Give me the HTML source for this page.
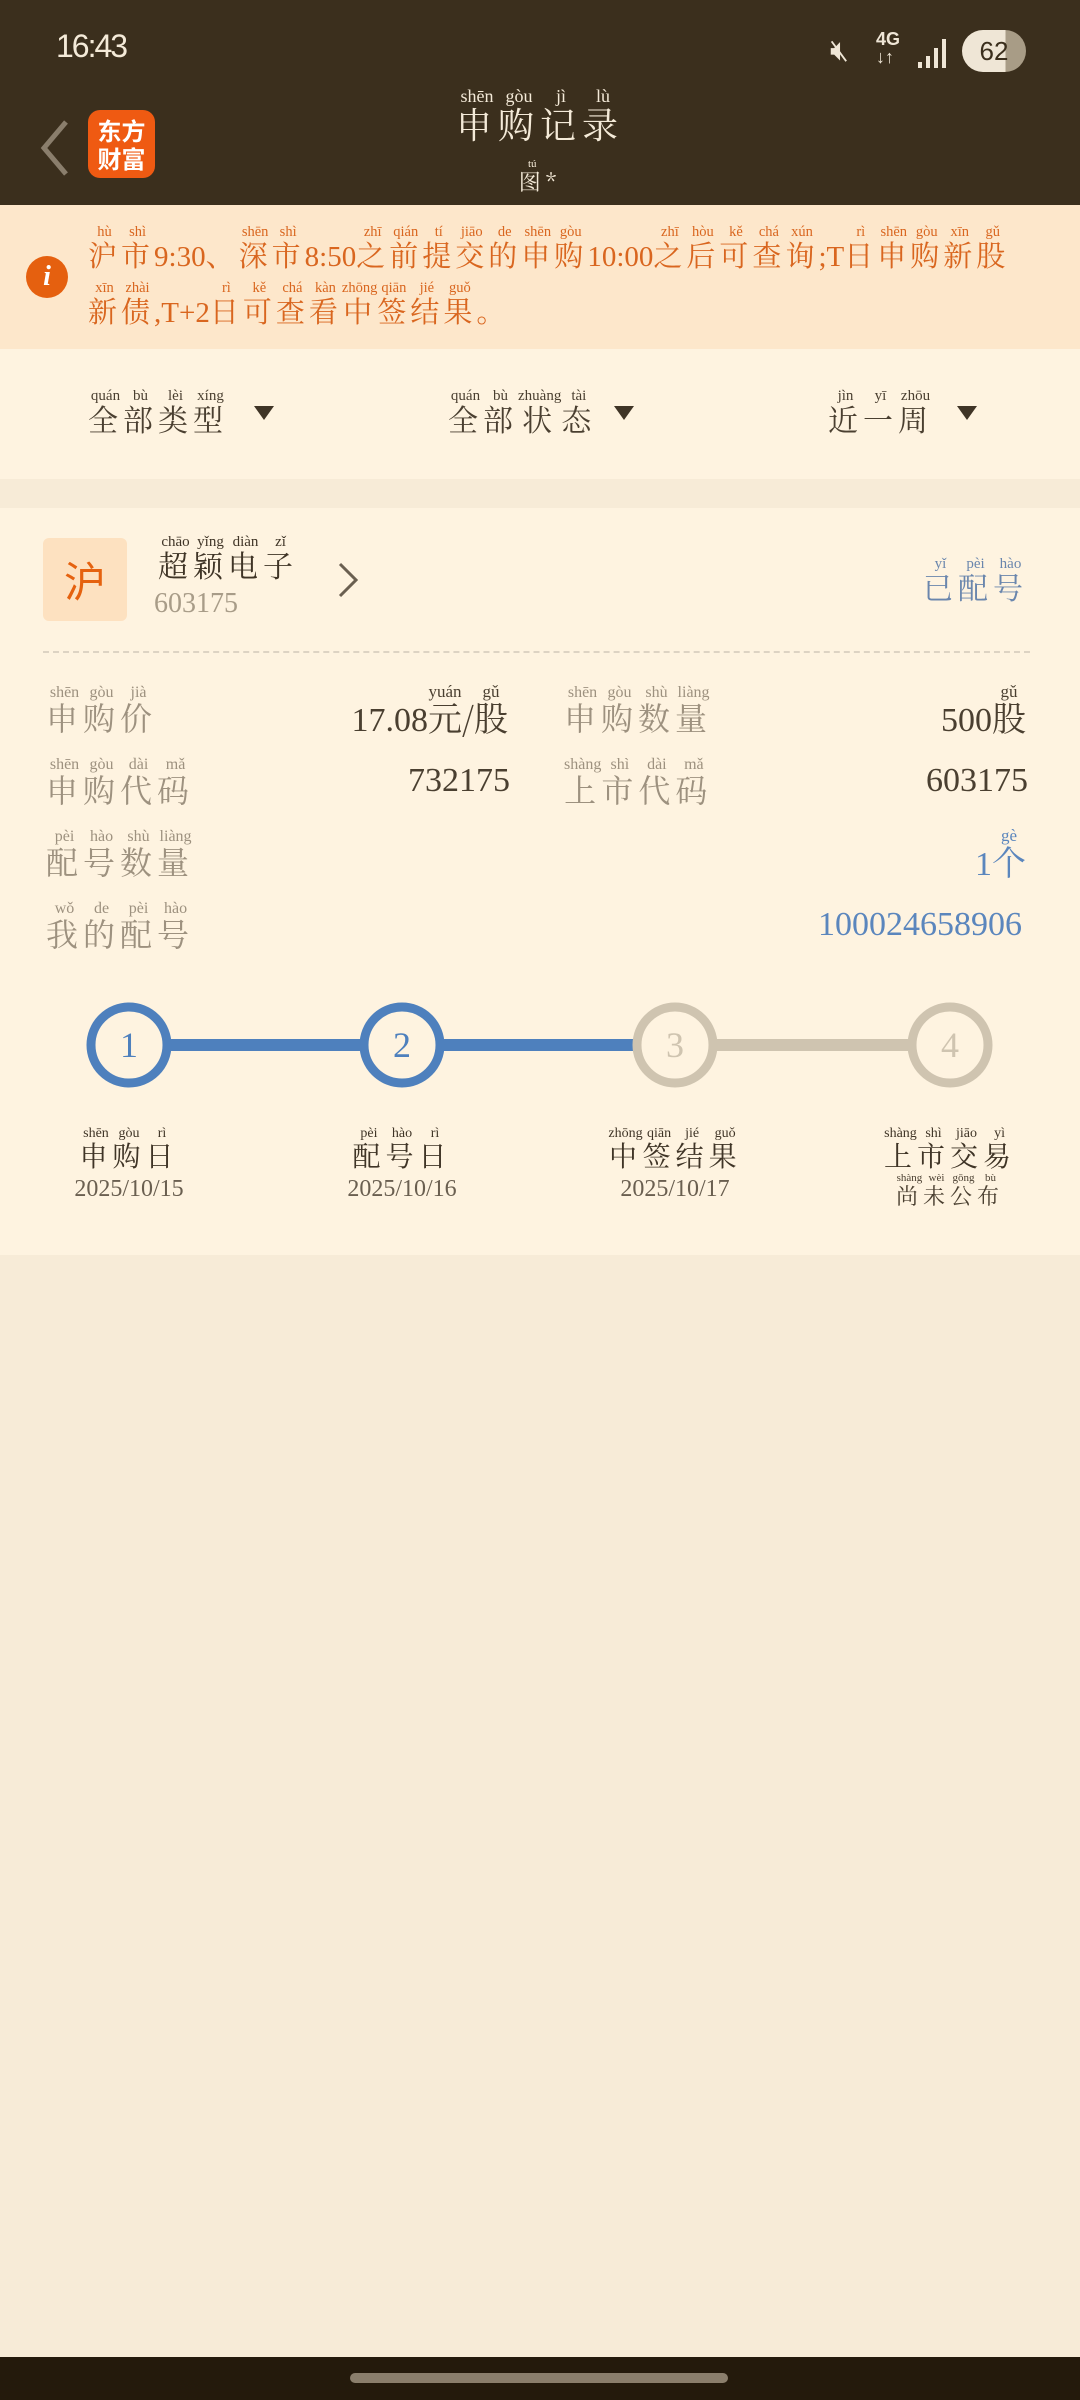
<!DOCTYPE html>
<html><head><meta charset="utf-8">
<style>
*{margin:0;padding:0;box-sizing:border-box}
html,body{width:1080px;height:2400px;overflow:hidden;background:#f7ebd7;font-family:"Liberation Serif","Noto Serif CJK SC",serif}
.a{position:absolute;white-space:nowrap}
ruby{ruby-position:over}
rt{font-size:0.5em;font-family:"Liberation Serif",serif;letter-spacing:0;text-align:center}
.zh{font-family:"Noto Serif CJK SC","Liberation Serif",serif;letter-spacing:5px}
.n{letter-spacing:0;font-family:"Liberation Serif",serif}
.lab{color:#9d917f;font-size:32px}
.val{color:#4a3f30;font-size:34px;text-align:right}
.blue{color:#5b86bd}
</style></head><body>
<!-- header -->
<div class="a" style="left:0;top:0;width:1080px;height:205px;background:#3b2f1d"></div>
<div class="a" style="left:56px;top:28px;color:#f4ead8;font-size:32px;font-family:'Liberation Sans',sans-serif;letter-spacing:-2px">16:43</div>
<div class="a" style="left:830px;top:34px;color:#efe6d6;font-size:30px;font-family:'Liberation Sans',sans-serif">🔇︎</div>
<div class="a" style="left:876px;top:30px;color:#efe6d6;font-size:18px;font-family:'Liberation Sans',sans-serif;font-weight:bold;line-height:18px">4G<br>↓↑</div>
<svg class="a" style="left:918px;top:36px" width="34" height="34"><rect x="0" y="26" width="4" height="6" fill="#efe6d6"/><rect x="8" y="20" width="4" height="12" fill="#efe6d6"/><rect x="16" y="12" width="4" height="20" fill="#efe6d6"/><rect x="24" y="3" width="4" height="29" fill="#efe6d6"/></svg>
<div class="a" style="left:962px;top:30px;width:64px;height:42px;border-radius:21px;background:linear-gradient(90deg,#efe6d6 0 68%,#a89c86 68%);color:#3b2f1d;font-size:26px;text-align:center;line-height:42px;font-family:'Liberation Sans',sans-serif">62</div>
<svg class="a" style="left:36px;top:118px" width="36" height="60"><polyline points="30,4 8,30 30,56" fill="none" stroke="#8a7e6c" stroke-width="5"/></svg>
<div class="a" style="left:88px;top:110px;width:67px;height:68px;border-radius:12px;background:#ef5a12;color:#fff;font-size:24px;font-weight:bold;line-height:28px;text-align:center;padding-top:6px;font-family:'Noto Sans CJK SC',sans-serif">东方<br>财富</div>
<div class="a zh" style="left:0;width:1080px;top:88px;text-align:center;color:#f4ead8;font-size:36px;letter-spacing:6px"><ruby>申<rt>shēn</rt></ruby><ruby>购<rt>gòu</rt></ruby><ruby>记<rt>jì</rt></ruby><ruby>录<rt>lù</rt></ruby></div>
<div class="a zh" style="left:0;width:1080px;top:158px;text-align:center;color:#f4ead8;font-size:22px"><ruby>图<rt>tú</rt></ruby>*</div>
<!-- notice -->
<div class="a" style="left:0;top:205px;width:1080px;height:144px;background:#fde7cb"></div>
<div class="a" style="left:26px;top:256px;width:42px;height:42px;border-radius:50%;background:#e5600f;color:#fff;font-size:28px;font-style:italic;font-weight:bold;text-align:center;line-height:42px">i</div>
<div class="a zh" style="left:88px;top:224px;color:#d9661f;font-size:29px;line-height:54px;letter-spacing:4px"><ruby>沪<rt>hù</rt></ruby><ruby>市<rt>shì</rt></ruby><span class="n">9:30</span>、<ruby>深<rt>shēn</rt></ruby><ruby>市<rt>shì</rt></ruby><span class="n">8:50</span><ruby>之<rt>zhī</rt></ruby><ruby>前<rt>qián</rt></ruby><ruby>提<rt>tí</rt></ruby><ruby>交<rt>jiāo</rt></ruby><ruby>的<rt>de</rt></ruby><ruby>申<rt>shēn</rt></ruby><ruby>购<rt>gòu</rt></ruby><span class="n">10:00</span><ruby>之<rt>zhī</rt></ruby><ruby>后<rt>hòu</rt></ruby><ruby>可<rt>kě</rt></ruby><ruby>查<rt>chá</rt></ruby><ruby>询<rt>xún</rt></ruby><span class="n">;T</span><ruby>日<rt>rì</rt></ruby><ruby>申<rt>shēn</rt></ruby><ruby>购<rt>gòu</rt></ruby><ruby>新<rt>xīn</rt></ruby><ruby>股<rt>gǔ</rt></ruby><br><ruby>新<rt>xīn</rt></ruby><ruby>债<rt>zhài</rt></ruby><span class="n">,T+2</span><ruby>日<rt>rì</rt></ruby><ruby>可<rt>kě</rt></ruby><ruby>查<rt>chá</rt></ruby><ruby>看<rt>kàn</rt></ruby><ruby>中<rt>zhōng</rt></ruby><ruby>签<rt>qiān</rt></ruby><ruby>结<rt>jié</rt></ruby><ruby>果<rt>guǒ</rt></ruby>。</div>
<!-- filters -->
<div class="a" style="left:0;top:349px;width:1080px;height:130px;background:#fef3e0"></div>
<div class="a zh" style="left:88px;top:388px;color:#4a3f30;font-size:30px"><ruby>全<rt>quán</rt></ruby><ruby>部<rt>bù</rt></ruby><ruby>类<rt>lèi</rt></ruby><ruby>型<rt>xíng</rt></ruby></div>
<div class="a zh" style="left:448px;top:388px;color:#4a3f30;font-size:30px"><ruby>全<rt>quán</rt></ruby><ruby>部<rt>bù</rt></ruby><ruby>状<rt>zhuàng</rt></ruby><ruby>态<rt>tài</rt></ruby></div>
<div class="a zh" style="left:828px;top:388px;color:#4a3f30;font-size:30px"><ruby>近<rt>jìn</rt></ruby><ruby>一<rt>yī</rt></ruby><ruby>周<rt>zhōu</rt></ruby></div>
<svg class="a" style="left:254px;top:406px" width="20" height="16"><polygon points="0,0 20,0 10,14" fill="#3f3426"/></svg>
<svg class="a" style="left:614px;top:406px" width="20" height="16"><polygon points="0,0 20,0 10,14" fill="#3f3426"/></svg>
<svg class="a" style="left:957px;top:406px" width="20" height="16"><polygon points="0,0 20,0 10,14" fill="#3f3426"/></svg>
<!-- card -->
<div class="a" style="left:0;top:508px;width:1080px;height:747px;background:#fef3e0"></div>
<div class="a" style="left:43px;top:538px;width:84px;height:83px;border-radius:6px;background:#fde1c0;color:#e5620f;font-size:42px;text-align:center;line-height:83px;font-family:'Noto Sans CJK SC',sans-serif">沪</div>
<div class="a zh" style="left:158px;top:534px;color:#3f3426;font-size:30px"><ruby>超<rt>chāo</rt></ruby><ruby>颖<rt>yǐng</rt></ruby><ruby>电<rt>diàn</rt></ruby><ruby>子<rt>zǐ</rt></ruby></div>
<div class="a" style="left:154px;top:588px;color:#a89c88;font-size:28px">603175</div>
<svg class="a" style="left:336px;top:560px" width="24" height="40"><polyline points="4,4 20,20 4,36" fill="none" stroke="#6a5f50" stroke-width="3"/></svg>
<div class="a zh blue" style="right:52px;top:556px;font-size:30px;color:#6a86ad"><ruby>已<rt>yǐ</rt></ruby><ruby>配<rt>pèi</rt></ruby><ruby>号<rt>hào</rt></ruby></div>
<div class="a" style="left:43px;top:651px;width:987px;border-top:2px dashed #ddd3c3"></div>
<div class="a zh lab" style="left:46px;top:684px"><ruby>申<rt>shēn</rt></ruby><ruby>购<rt>gòu</rt></ruby><ruby>价<rt>jià</rt></ruby></div>
<div class="a val" style="right:572px;top:684px">17.08<span class="zh" style="letter-spacing:0"><ruby>元<rt>yuán</rt></ruby>/<ruby>股<rt>gǔ</rt></ruby></span></div>
<div class="a zh lab" style="left:564px;top:684px"><ruby>申<rt>shēn</rt></ruby><ruby>购<rt>gòu</rt></ruby><ruby>数<rt>shù</rt></ruby><ruby>量<rt>liàng</rt></ruby></div>
<div class="a val" style="right:54px;top:684px">500<span class="zh" style="letter-spacing:0"><ruby>股<rt>gǔ</rt></ruby></span></div>
<div class="a zh lab" style="left:46px;top:756px"><ruby>申<rt>shēn</rt></ruby><ruby>购<rt>gòu</rt></ruby><ruby>代<rt>dài</rt></ruby><ruby>码<rt>mǎ</rt></ruby></div>
<div class="a val" style="right:570px;top:762px">732175</div>
<div class="a zh lab" style="left:564px;top:756px"><ruby>上<rt>shàng</rt></ruby><ruby>市<rt>shì</rt></ruby><ruby>代<rt>dài</rt></ruby><ruby>码<rt>mǎ</rt></ruby></div>
<div class="a val" style="right:52px;top:762px">603175</div>
<div class="a zh lab" style="left:46px;top:828px"><ruby>配<rt>pèi</rt></ruby><ruby>号<rt>hào</rt></ruby><ruby>数<rt>shù</rt></ruby><ruby>量<rt>liàng</rt></ruby></div>
<div class="a val blue" style="right:54px;top:828px">1<span class="zh" style="letter-spacing:0"><ruby>个<rt>gè</rt></ruby></span></div>
<div class="a zh lab" style="left:46px;top:900px"><ruby>我<rt>wǒ</rt></ruby><ruby>的<rt>de</rt></ruby><ruby>配<rt>pèi</rt></ruby><ruby>号<rt>hào</rt></ruby></div>
<div class="a val blue" style="right:58px;top:906px">100024658906</div>
<!-- steps -->
<svg class="a" style="left:0;top:990px" width="1080" height="110">
<line x1="129" y1="55" x2="675" y2="55" stroke="#4e80bd" stroke-width="12"/>
<line x1="675" y1="55" x2="950" y2="55" stroke="#cfc4b0" stroke-width="12"/>
<g font-family="Liberation Serif" font-size="36" text-anchor="middle">
<circle cx="129" cy="55" r="38" fill="#fef3e0" stroke="#4e80bd" stroke-width="9"/><text x="129" y="67" fill="#4e80bd">1</text>
<circle cx="402" cy="55" r="38" fill="#fef3e0" stroke="#4e80bd" stroke-width="9"/><text x="402" y="67" fill="#4e80bd">2</text>
<circle cx="675" cy="55" r="38" fill="#fef3e0" stroke="#cfc4b0" stroke-width="9"/><text x="675" y="67" fill="#cfc4b0">3</text>
<circle cx="950" cy="55" r="38" fill="#fef3e0" stroke="#cfc4b0" stroke-width="9"/><text x="950" y="67" fill="#cfc4b0">4</text>
</g></svg>
<div class="a zh" style="left:29px;width:200px;text-align:center;top:1126px;color:#3f3426;font-size:28px"><ruby>申<rt>shēn</rt></ruby><ruby>购<rt>gòu</rt></ruby><ruby>日<rt>rì</rt></ruby></div>
<div class="a zh" style="left:302px;width:200px;text-align:center;top:1126px;color:#3f3426;font-size:28px"><ruby>配<rt>pèi</rt></ruby><ruby>号<rt>hào</rt></ruby><ruby>日<rt>rì</rt></ruby></div>
<div class="a zh" style="left:575px;width:200px;text-align:center;top:1126px;color:#3f3426;font-size:28px"><ruby>中<rt>zhōng</rt></ruby><ruby>签<rt>qiān</rt></ruby><ruby>结<rt>jié</rt></ruby><ruby>果<rt>guǒ</rt></ruby></div>
<div class="a zh" style="left:850px;width:200px;text-align:center;top:1126px;color:#3f3426;font-size:28px"><ruby>上<rt>shàng</rt></ruby><ruby>市<rt>shì</rt></ruby><ruby>交<rt>jiāo</rt></ruby><ruby>易<rt>yì</rt></ruby></div>
<div class="a" style="left:29px;width:200px;text-align:center;top:1176px;color:#6a5f50;font-size:24px">2025/10/15</div>
<div class="a" style="left:302px;width:200px;text-align:center;top:1176px;color:#6a5f50;font-size:24px">2025/10/16</div>
<div class="a" style="left:575px;width:200px;text-align:center;top:1176px;color:#6a5f50;font-size:24px">2025/10/17</div>
<div class="a zh" style="left:850px;width:200px;text-align:center;top:1172px;color:#4a3f30;font-size:22px"><ruby>尚<rt>shàng</rt></ruby><ruby>未<rt>wèi</rt></ruby><ruby>公<rt>gōng</rt></ruby><ruby>布<rt>bù</rt></ruby></div>
<!-- nav bar -->
<div class="a" style="left:0;top:2357px;width:1080px;height:43px;background:#241a0c"></div>
<div class="a" style="left:350px;top:2373px;width:378px;height:10px;border-radius:5px;background:#8a7e6c"></div>
</body></html>
